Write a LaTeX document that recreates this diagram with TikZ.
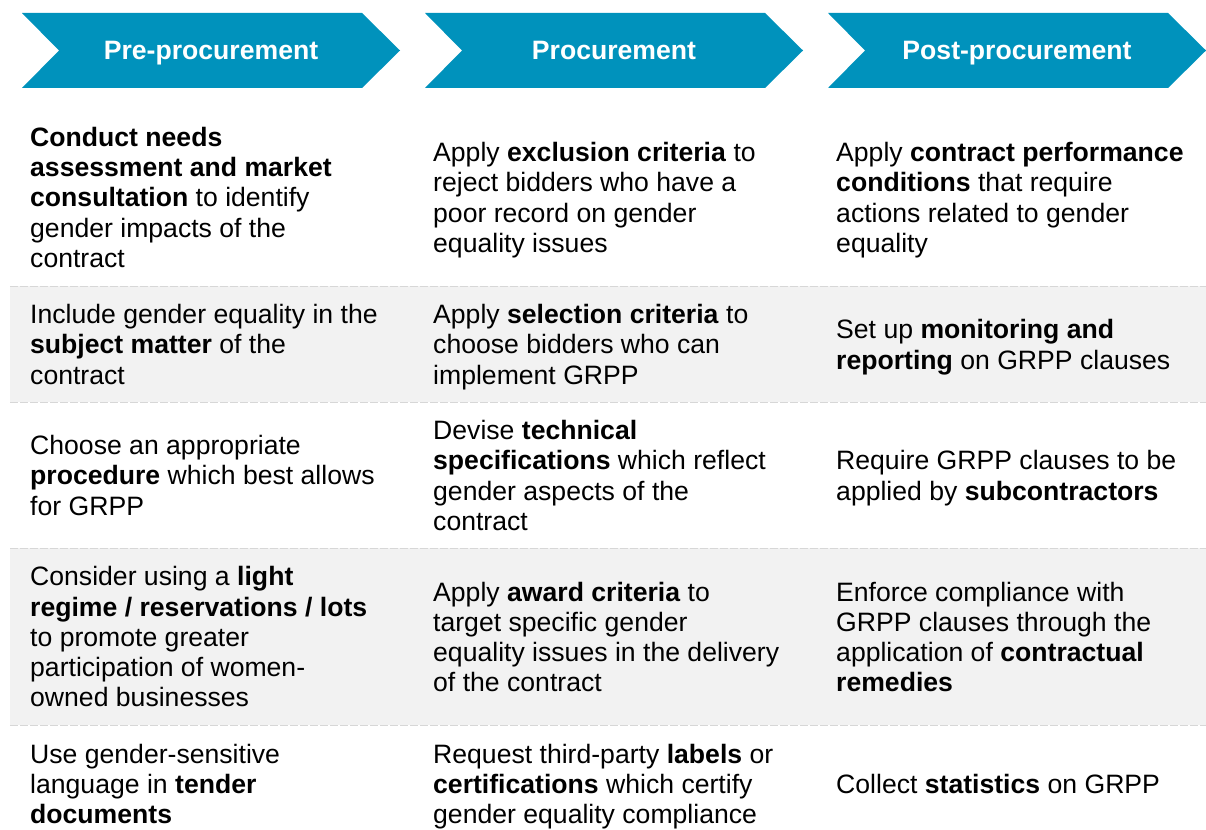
\documentclass[tikz,border=0pt]{standalone}
\usepackage{fontspec}
\setmainfont{Liberation Sans}
\usetikzlibrary{positioning}
\definecolor{grppblue}{RGB}{0,146,188}
\definecolor{rowgray}{RGB}{242,242,242}
\definecolor{dashgray}{RGB}{215,215,215}
\newcommand{\cellstrut}{\rule[-5.4pt]{0pt}{30.25pt}}

\begin{document}
\begin{tikzpicture}[
    x=1pt, y=-1pt,
    chevron/.style={fill=grppblue, draw=none},
    headnode/.style={anchor=base, text=white, font=\fontsize{26.6}{30.25}\selectfont\bfseries, inner sep=0pt},
    cellnode/.style={anchor=north west, align=left, inner sep=0pt, font=\fontsize{26.6}{30.25}\selectfont},
    rowline/.style={draw=dashgray, line width=1pt, dash pattern=on 8pt off 2pt},
    ]
    \useasboundingbox (0,0) rectangle (1206,829);

    %Row backgrounds
    \fill[rowgray] (10,286) rectangle (1206,402);
    \fill[rowgray] (10,548) rectangle (1206,725);

    %Chevrons
    \foreach \x/\name/\txt in {22/pre/Pre-procurement, 425/proc/Procurement, 828/post/Post-procurement}{
        \fill[chevron] (\x,13) -- ++(340,0) -- ++(38,37.5) -- ++(-38,37.5) -- ++(-340,0) -- ++(37,-37.5) -- cycle;
        \node[headnode] (\name) at (\x+189,59.5) {\txt};
    }

    %Nodes
    \node[cellnode] (pre1)  at (30,121.35) {\cellstrut\textbf{Conduct needs}\\\textbf{assessment and market}\\\textbf{consultation} to identify\\gender impacts of the\\contract};
    \node[cellnode] (proc1) at (433,136.5) {\cellstrut Apply \textbf{exclusion criteria} to\\reject bidders who have a\\poor record on gender\\equality issues};
    \node[cellnode] (post1) at (836,136.5) {\cellstrut Apply \textbf{contract performance}\\\textbf{conditions} that require\\actions related to gender\\equality};

    \node[cellnode] (pre2)  at (30,298.6) {\cellstrut Include gender equality in the\\\textbf{subject matter} of the\\contract};
    \node[cellnode] (proc2) at (433,298.6) {\cellstrut Apply \textbf{selection criteria} to\\choose bidders who can\\implement GRPP};
    \node[cellnode] (post2) at (836,313.7) {\cellstrut Set up \textbf{monitoring and}\\\textbf{reporting} on GRPP clauses};

    \node[cellnode] (pre3)  at (30,429.6) {\cellstrut Choose an appropriate\\\textbf{procedure} which best allows\\for GRPP};
    \node[cellnode] (proc3) at (433,414.5) {\cellstrut Devise \textbf{technical}\\\textbf{specifications} which reflect\\gender aspects of the\\contract};
    \node[cellnode] (post3) at (836,444.7) {\cellstrut Require GRPP clauses to be\\applied by \textbf{subcontractors}};

    \node[cellnode] (pre4)  at (30,560.85) {\cellstrut Consider using a \textbf{light}\\\textbf{regime / reservations / lots}\\to promote greater\\participation of women-\\owned businesses};
    \node[cellnode] (proc4) at (433,576) {\cellstrut Apply \textbf{award criteria} to\\target specific gender\\equality issues in the delivery\\of the contract};
    \node[cellnode] (post4) at (836,576) {\cellstrut Enforce compliance with\\GRPP clauses through the\\application of \textbf{contractual}\\\textbf{remedies}};

    \node[cellnode] (pre5)  at (30,738.1) {\cellstrut Use gender-sensitive\\language in \textbf{tender}\\\textbf{documents}};
    \node[cellnode] (proc5) at (433,738.1) {\cellstrut Request third-party \textbf{labels} or\\\textbf{certifications} which certify\\gender equality compliance};
    \node[cellnode] (post5) at (836,768.35) {\cellstrut Collect \textbf{statistics} on GRPP};

    %Lines
    \foreach \y in {286,402,548,725}
        \draw[rowline] (10,\y) -- (1206,\y);
\end{tikzpicture}
\end{document}
